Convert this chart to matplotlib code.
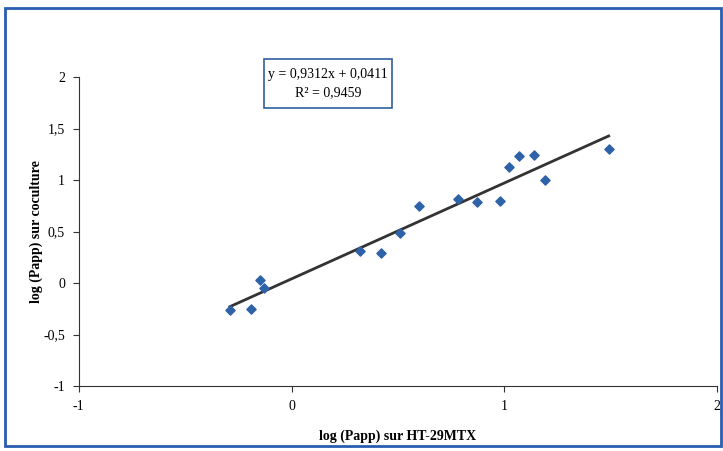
import matplotlib
matplotlib.use("Agg")
import matplotlib.pyplot as plt
import numpy as np
from matplotlib.patches import Rectangle

x_vals = [-0.29, -0.19, -0.15, -0.13, 0.32, 0.42, 0.51, 0.60, 0.78, 0.87, 0.98, 1.02, 1.07, 1.14, 1.19, 1.49]
y_vals = [-0.26, -0.25, 0.03, -0.05, 0.31, 0.29, 0.49, 0.75, 0.82, 0.79, 0.80, 1.13, 1.23, 1.24, 1.00, 1.30]
slope = 0.9312
intercept = 0.0411
eq_text = "y = 0,9312x + 0,0411"
r2_text = "R² = 0,9459"
x_ticks = [-1, 0, 1, 2]
x_ticklabels = ["-1", "0", "1", "2"]
y_ticks = [-1, -0.5, 0, 0.5, 1, 1.5, 2]
y_ticklabels = ["-1", "-0,5", "0", "0,5", "1", "1,5", "2"]

plt.rcParams['font.family'] = ['Liberation Serif', 'DejaVu Serif']

fig = plt.figure(figsize=(7.23, 4.51), dpi=100)
ax = fig.add_axes([0.109, 0.144, 0.883, 0.685])

xs = np.array([min(x_vals), max(x_vals)])
ax.plot(xs, slope * xs + intercept, color='#333333', lw=2.0, zorder=2)
ax.scatter(x_vals, y_vals, marker='D', s=22, color='#2e62a8', zorder=3)

ax.set_xlim(-1, 2)
ax.set_ylim(-1, 2)
ax.set_xticks(x_ticks)
ax.set_xticklabels(x_ticklabels, fontsize=10)
ax.set_yticks(y_ticks)
ax.set_yticklabels(y_ticklabels, fontsize=10)
ax.spines['top'].set_visible(False)
ax.spines['right'].set_visible(False)
ax.spines['left'].set_color('#333333')
ax.spines['bottom'].set_color('#333333')
ax.tick_params(axis='both', direction='out', length=4, color='#333333', pad=6)
ax.set_xlabel("log (Papp) sur HT-29MTX", fontsize=10, fontweight='bold', labelpad=12)
ax.set_ylabel("log (Papp) sur coculture", fontsize=10, fontweight='bold', labelpad=0)

fig.text(0.454, 0.834, eq_text, ha='center', va='center', fontsize=10)
fig.text(0.454, 0.794, r2_text, ha='center', va='center', fontsize=10)
fig.patches.append(Rectangle((0.365, 0.760), 0.177, 0.109, transform=fig.transFigure,
                             fill=False, edgecolor='#2e5f9e', lw=1.2))

fig.patches.append(Rectangle((0.007, 0.012), 0.99, 0.97, transform=fig.transFigure,
                             fill=False, edgecolor='#2a5db0', lw=2))

fig.savefig("out.png", dpi=100)
